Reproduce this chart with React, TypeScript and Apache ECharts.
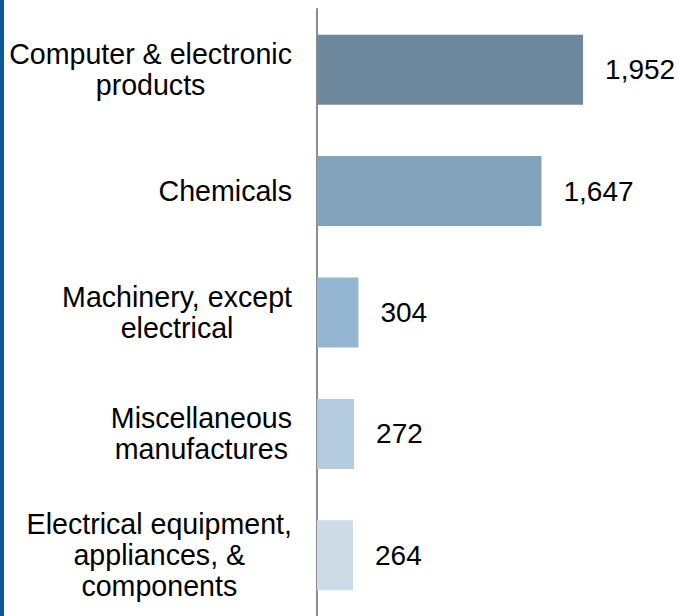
import React, { useEffect, useRef } from "react";
import * as echarts from "echarts";

const categories: string[] = [
  "Computer & electronic\nproducts",
  "Chemicals",
  "Machinery, except\nelectrical",
  "Miscellaneous\nmanufactures",
  "Electrical equipment,\nappliances, &\ncomponents",
];
const values: number[] = [1952, 1647, 304, 272, 264];
const barColors: string[] = ["#6d879c", "#83a3bd", "#95b6d3", "#b5cbdf", "#cddbe7"];

const FONT = "'Liberation Sans', Arial, Helvetica, sans-serif";

export default function App() {
  const ref = useRef<HTMLDivElement>(null);
  useEffect(() => {
    if (!ref.current) return;
    const chart = echarts.init(ref.current, undefined, { renderer: "svg" });
    const xMax = 2000;
    const pxPerUnit = 0.1363;
    chart.setOption({
      animation: false,
      graphic: [
        {
          type: "rect",
          shape: { x: 0, y: 0, width: 4, height: 616 },
          style: { fill: "#0b5a97" },
        },
      ],
      grid: { left: 317, top: 9, width: xMax * pxPerUnit, height: 612.5, containLabel: false },
      xAxis: {
        type: "value",
        min: 0,
        max: xMax,
        show: false,
      },
      yAxis: {
        type: "category",
        inverse: true,
        data: categories,
        axisLine: { show: true, lineStyle: { color: "#8c8c8c", width: 2 } },
        axisTick: { show: false },
        splitLine: { show: false },
        axisLabel: {
          margin: 25,
          align: "right",
          fontFamily: FONT,
          fontSize: 28.6,
          color: "#000",
          lineHeight: 31,
          formatter: (v: string) =>
            v
              .split("\n")
              .map((l) => `{c|${l}}`)
              .join("\n"),
          rich: {
            c: { align: "center", fontFamily: FONT, fontSize: 28.6, lineHeight: 31, color: "#000" },
          },
        },
      },
      series: [
        {
          type: "bar",
          data: values.map((v, i) => ({ value: v, itemStyle: { color: barColors[i] } })),
          barWidth: 70,
          label: {
            show: true,
            position: "right",
            distance: 22,
            fontFamily: FONT,
            fontSize: 28,
            color: "#000",
            formatter: (p: any) => p.value.toLocaleString("en-US"),
          },
        },
      ],
    });
    return () => chart.dispose();
  }, []);
  return (
    <div
      ref={ref}
      style={{ position: "fixed", left: 0, top: 0, width: 678, height: 616, background: "#fff" }}
    />
  );
}
